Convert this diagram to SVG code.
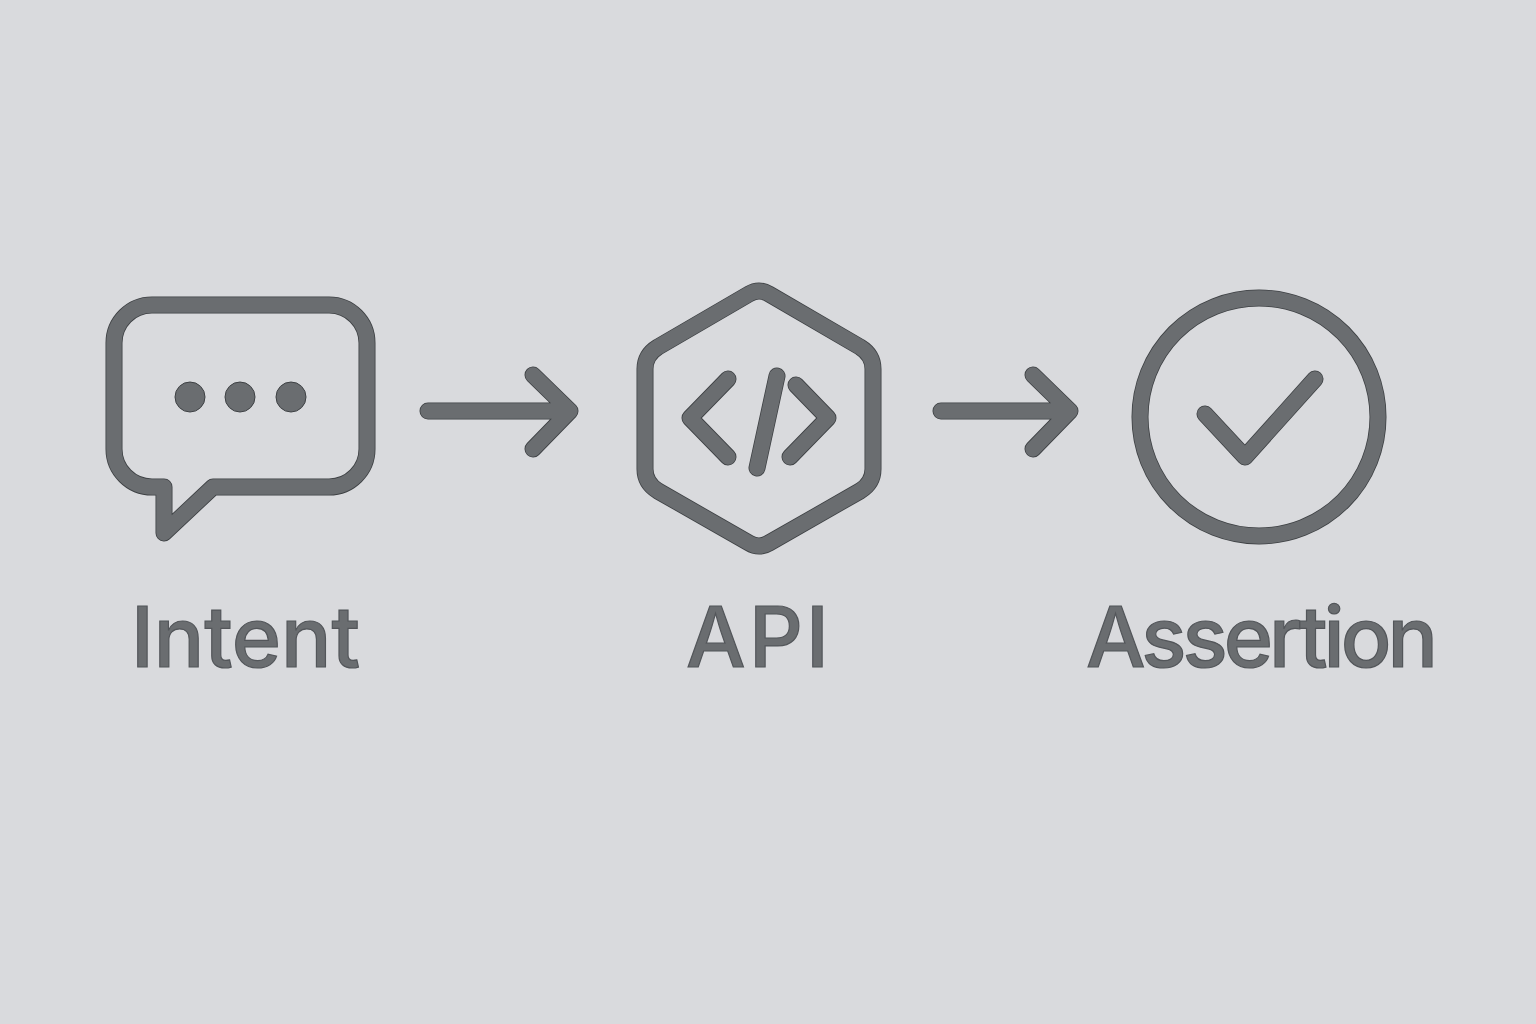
<svg xmlns="http://www.w3.org/2000/svg" width="1536" height="1024" viewBox="0 0 1536 1024">
<style>
.e{fill:none;stroke:#3e4144;stroke-width:17;stroke-linecap:round;stroke-linejoin:round}
.f{fill:none;stroke:#6a6d70;stroke-width:15.4;stroke-linecap:round;stroke-linejoin:round}
.d{fill:#6a6d70;stroke:#3e4144;stroke-width:1}
.t{font-family:"Inter","Liberation Sans",sans-serif;font-size:84px;font-weight:500;fill:#6a6d70;stroke:#53565a;stroke-width:1.2;font-variant-ligatures:none;text-anchor:start}
</style>
<defs>
<path id="bubble" d="M152 305H329A38 38 0 0 1 367 343V449A38 38 0 0 1 329 487H213L164 533V487H152A38 38 0 0 1 114 449V343A38 38 0 0 1 152 305Z"/>
<path id="hex" d="M749 294Q759 288 769 294L860 347Q873 355 873 369V469Q873 483 860 491L769 543Q759 549 749 543L658 491Q645 483 645 469V369Q645 355 658 347Z"/>
<path id="code" d="M728 379L690 418L728 457M777 376L757 468M796 385L828 418L790 457"/>
<path id="a1" d="M428 411H570M533 375L570 411L533 449"/>
<path id="a2" d="M941 411H1070M1033 375L1070 411L1033 449"/>
<path id="chk" d="M1205 414L1245 457L1315 379"/>
</defs>
<rect width="1536" height="1024" fill="#d9dadd"/>
<g id="connectors">
<use href="#a1" class="e"/><use href="#a1" class="f"/>
<use href="#a2" class="e"/><use href="#a2" class="f"/>
</g>
<g id="intent">
<use href="#bubble" class="e"/><use href="#bubble" class="f"/>
<circle class="d" cx="190" cy="397" r="15"/><circle class="d" cx="240" cy="397" r="15"/><circle class="d" cx="291" cy="397" r="15"/>
<text class="t" x="131" y="667" textLength="229">Intent</text>
</g>
<g id="api">
<use href="#hex" class="e"/><use href="#hex" class="f"/>
<use href="#code" class="e"/><use href="#code" class="f"/>
<text class="t" x="686" y="667" textLength="143">API</text>
</g>
<g id="assertion">
<circle class="e" cx="1259" cy="417" r="119"/><circle class="f" cx="1259" cy="417" r="119"/>
<use href="#chk" class="e"/><use href="#chk" class="f"/>
<text class="t" x="1086" y="667" textLength="352">Assertion</text>
</g>
</svg>
